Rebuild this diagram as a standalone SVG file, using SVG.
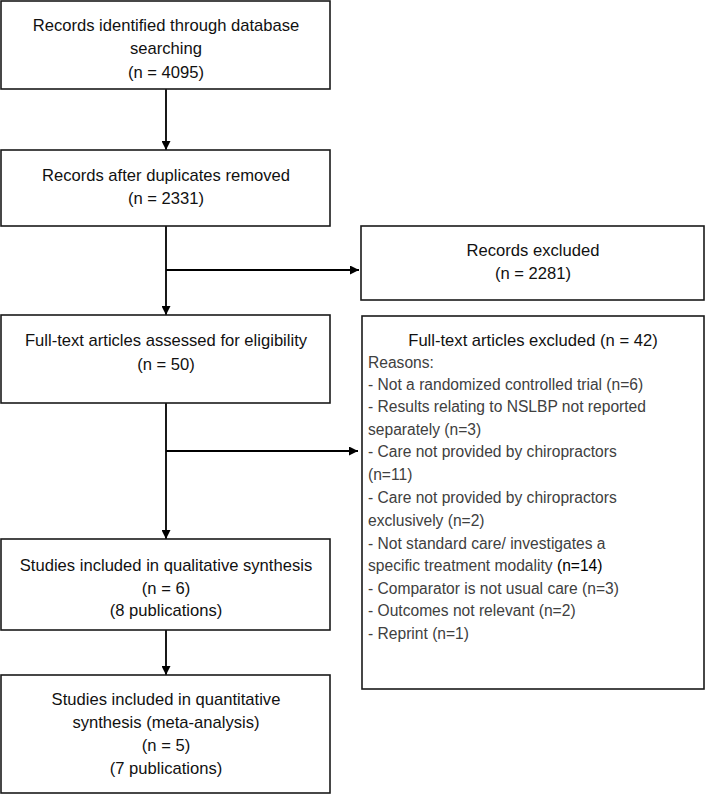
<svg xmlns="http://www.w3.org/2000/svg" width="706" height="796" viewBox="0 0 706 796">
<style>
.box{fill:#fff;stroke:#1a1a1a;stroke-width:1.6}
.t{font-family:"Liberation Sans",Arial,sans-serif;font-size:16.6px;fill:#111;text-anchor:middle}
.r{font-family:"Liberation Sans",Arial,sans-serif;font-size:15.6px;fill:#404040}
.k{fill:#000}
.ln{stroke:#000;stroke-width:1.8;fill:none}
</style>
<defs>
<marker id="ah" viewBox="0 0 10 10" refX="10" refY="5" markerWidth="9" markerHeight="9" markerUnits="userSpaceOnUse" orient="auto">
<path d="M0,0 L10,5 L0,10 z" fill="#000"/>
</marker>
</defs>
<rect width="706" height="796" fill="#fff"/>
<g id="connectors">
<line class="ln" x1="166" y1="89" x2="166" y2="150" marker-end="url(#ah)"/>
<line class="ln" x1="166" y1="226" x2="166" y2="315" marker-end="url(#ah)"/>
<line class="ln" x1="166" y1="270" x2="359" y2="270" marker-end="url(#ah)"/>
<line class="ln" x1="166" y1="403" x2="166" y2="539" marker-end="url(#ah)"/>
<line class="ln" x1="166" y1="451" x2="358" y2="451" marker-end="url(#ah)"/>
<line class="ln" x1="166" y1="630" x2="166" y2="675" marker-end="url(#ah)"/>
</g>
<g id="n1">
<rect class="box" x="1" y="1" width="329" height="88"/>
<text class="t" x="166" y="31">Records identified through database</text>
<text class="t" x="166" y="54">searching</text>
<text class="t" x="166" y="78">(n = 4095)</text>
</g>
<g id="n2">
<rect class="box" x="1" y="150" width="329" height="76"/>
<text class="t" x="166" y="181">Records after duplicates removed</text>
<text class="t" x="166" y="204">(n = 2331)</text>
</g>
<g id="n3">
<rect class="box" x="361" y="226" width="343" height="74"/>
<text class="t" x="533" y="256">Records excluded</text>
<text class="t" x="533" y="279">(n = 2281)</text>
</g>
<g id="n4">
<rect class="box" x="1" y="315" width="329" height="88"/>
<text class="t" x="166" y="346">Full-text articles assessed for eligibility</text>
<text class="t" x="166" y="370">(n = 50)</text>
</g>
<g id="n5">
<rect class="box" x="362" y="316" width="342" height="373"/>
<text class="t" x="533" y="346">Full-text articles excluded (n = 42)</text>
<text class="r" x="368" y="368">Reasons:</text>
<text class="r" x="368" y="390">- Not a randomized controlled trial (n=6)</text>
<text class="r" x="368" y="412">- Results relating to NSLBP not reported</text>
<text class="r" x="368" y="435">separately (n=3)</text>
<text class="r" x="368" y="457">- Care not provided by chiropractors</text>
<text class="r" x="368" y="480">(n=11)</text>
<text class="r" x="368" y="503">- Care not provided by chiropractors</text>
<text class="r" x="368" y="526">exclusively (n=2)</text>
<text class="r" x="368" y="549">- Not standard care/ investigates a</text>
<text class="r" x="368" y="571">specific treatment modality <tspan class="k">(n=14)</tspan></text>
<text class="r" x="368" y="594">- Comparator is not usual care (n=3)</text>
<text class="r" x="368" y="616">- Outcomes not relevant (n=2)</text>
<text class="r" x="368" y="639">- Reprint (n=1)</text>
</g>
<g id="n6">
<rect class="box" x="1" y="539" width="329" height="91"/>
<text class="t" x="166" y="571">Studies included in qualitative synthesis</text>
<text class="t" x="166" y="594">(n = 6)</text>
<text class="t" x="166" y="616">(8 publications)</text>
</g>
<g id="n7">
<rect class="box" x="1" y="675" width="329" height="118"/>
<text class="t" x="166" y="705">Studies included in quantitative</text>
<text class="t" x="166" y="728">synthesis (meta-analysis)</text>
<text class="t" x="166" y="751">(n = 5)</text>
<text class="t" x="166" y="774">(7 publications)</text>
</g>
</svg>
